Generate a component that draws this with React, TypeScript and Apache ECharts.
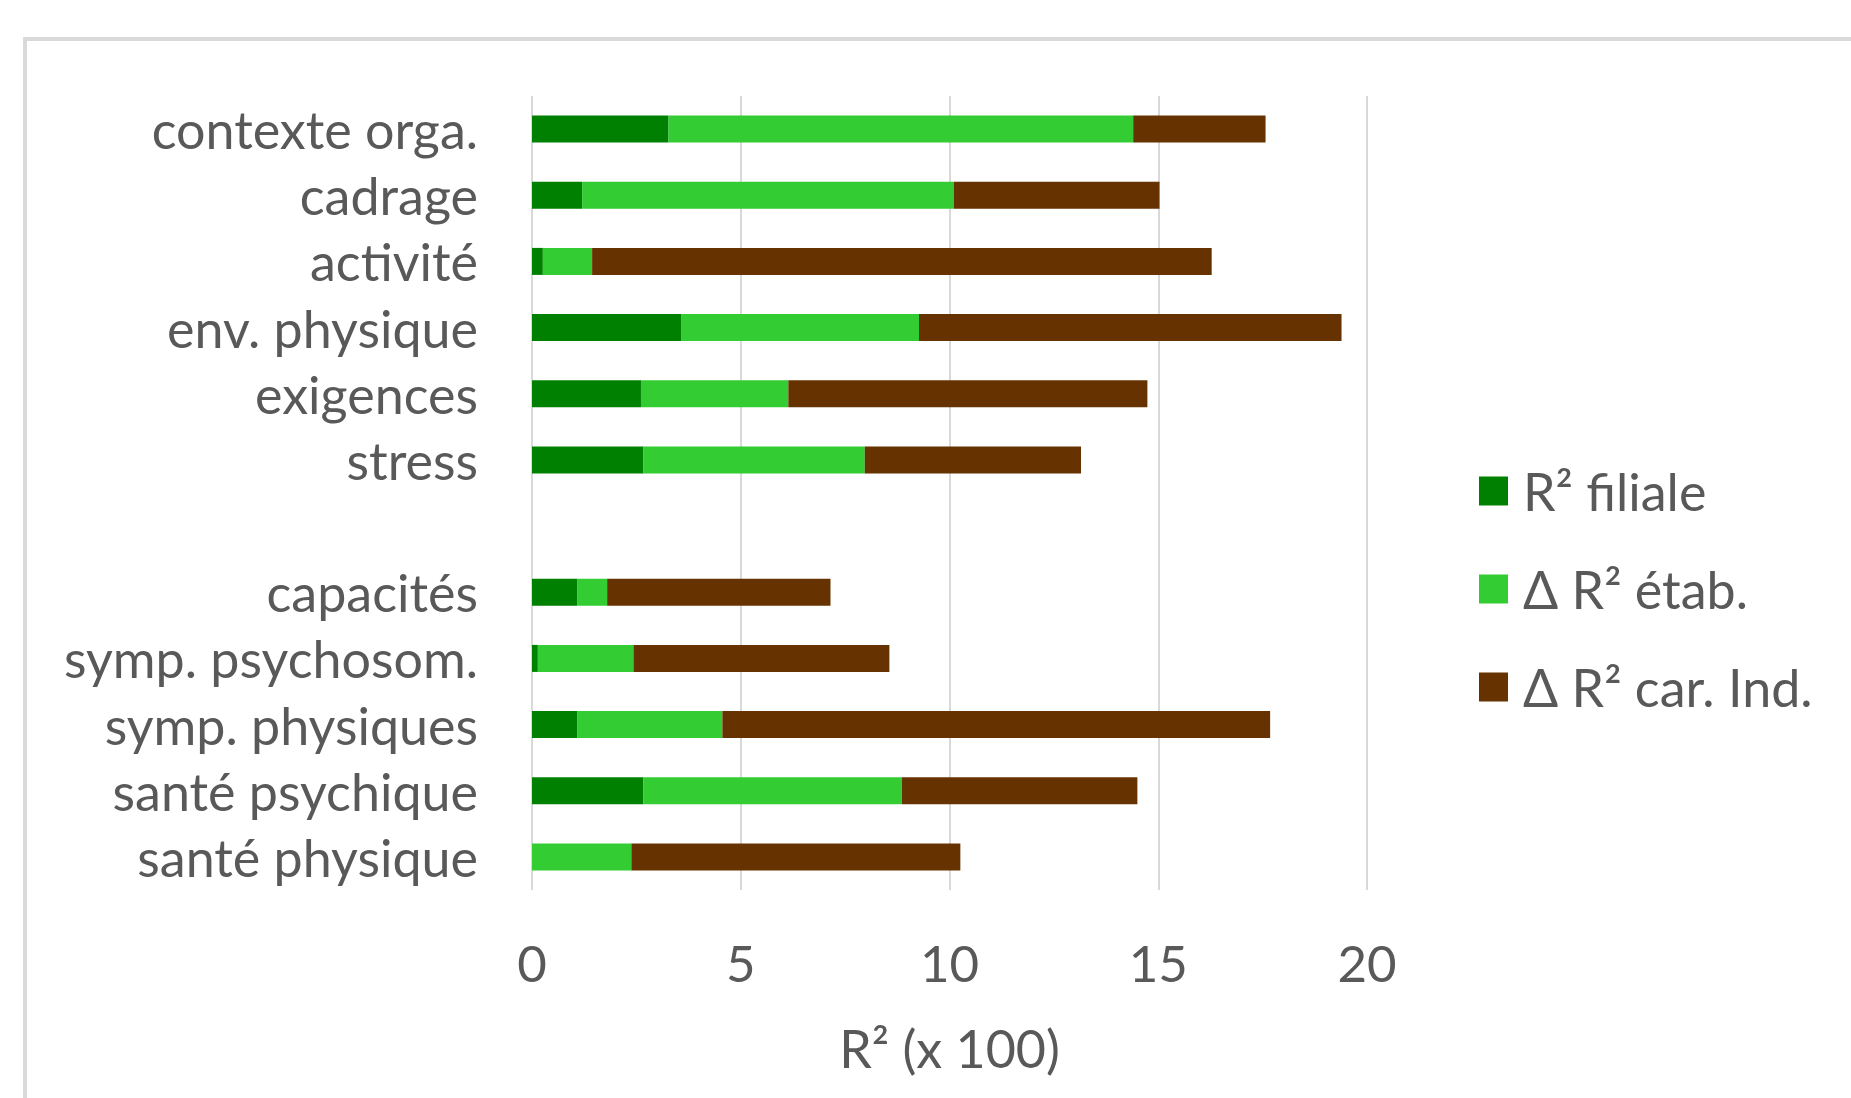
import React, { useEffect, useRef } from "react";
import * as echarts from "echarts";

const categories = [
  "contexte orga.",
  "cadrage",
  "activité",
  "env. physique",
  "exigences",
  "stress",
  "",
  "capacités",
  "symp. psychosom.",
  "symp. physiques",
  "santé psychique",
  "santé physique",
];

const seriesNames = ["R² filiale", "Δ R² étab.", "Δ R² car. Ind."];

const r2Filiale = [3.27, 1.2, 0.26, 3.57, 2.61, 2.67, null, 1.08, 0.14, 1.08, 2.67, 0];
const deltaEtab = [11.13, 8.9, 1.18, 5.7, 3.53, 5.3, null, 0.72, 2.29, 3.48, 6.19, 2.38];
const deltaCarInd = [3.17, 4.93, 14.84, 10.12, 8.6, 5.18, null, 5.35, 6.13, 13.12, 5.64, 7.88];

const xTicks = { min: 0, max: 20, interval: 5 };
const colors = ["#008000", "#33cc33", "#663300"];

const FONT = "Lato, 'Noto Sans', sans-serif";

export default function App() {
  const ref = useRef<HTMLDivElement>(null);
  useEffect(() => {
    if (!ref.current) return;
    const chart = echarts.init(ref.current, null, { renderer: "svg" });
    const data = [r2Filiale, deltaEtab, deltaCarInd];
    chart.setOption({
      animation: false,
      backgroundColor: "#ffffff",
      textStyle: { fontFamily: FONT },
      graphic: [
        {
          type: "rect",
          shape: { x: 25, y: 39, width: 1900, height: 1200 },
          style: { fill: "none", stroke: "#d9d9d9", lineWidth: 4 },
          z: -10,
        },
      ],
      grid: { left: 532, right: 484, top: 96, bottom: 208, containLabel: false },
      legend: {
        orient: "vertical",
        left: 1479,
        top: 465,
        padding: 0,
        itemWidth: 29,
        itemHeight: 29,
        itemGap: 46,
        icon: "rect",
        data: seriesNames,
        textStyle: {
          fontFamily: FONT,
          fontSize: 52,
          color: "#595959",
          lineHeight: 50,
          padding: [0, 0, 0, 10],
        },
      },
      xAxis: {
        type: "value",
        min: xTicks.min,
        max: xTicks.max,
        interval: xTicks.interval,
        axisLine: { show: false },
        axisTick: { show: false },
        splitLine: { show: true, lineStyle: { color: "#d9d9d9", width: 2 } },
        axisLabel: { fontFamily: FONT, fontSize: 51, color: "#595959", margin: 47 },
        name: "R² (x 100)",
        nameLocation: "middle",
        nameGap: 132,
        nameTextStyle: { fontFamily: FONT, fontSize: 52, color: "#595959" },
      },
      yAxis: {
        type: "category",
        data: categories,
        inverse: true,
        axisLine: { show: false },
        axisTick: { show: false },
        splitLine: { show: false },
        axisLabel: {
          interval: 0,
          fontFamily: FONT,
          fontSize: 52,
          color: "#595959",
          margin: 54,
          padding: [0, 0, 6, 0],
        },
      },
      series: seriesNames.map((name, i) => ({
        name,
        type: "bar",
        stack: "total",
        barWidth: 27,
        data: data[i],
        itemStyle: { color: colors[i] },
      })),
    });
    return () => chart.dispose();
  }, []);
  return (
    <div
      ref={ref}
      style={{ position: "absolute", left: 0, top: 0, width: 1851, height: 1098 }}
    />
  );
}
